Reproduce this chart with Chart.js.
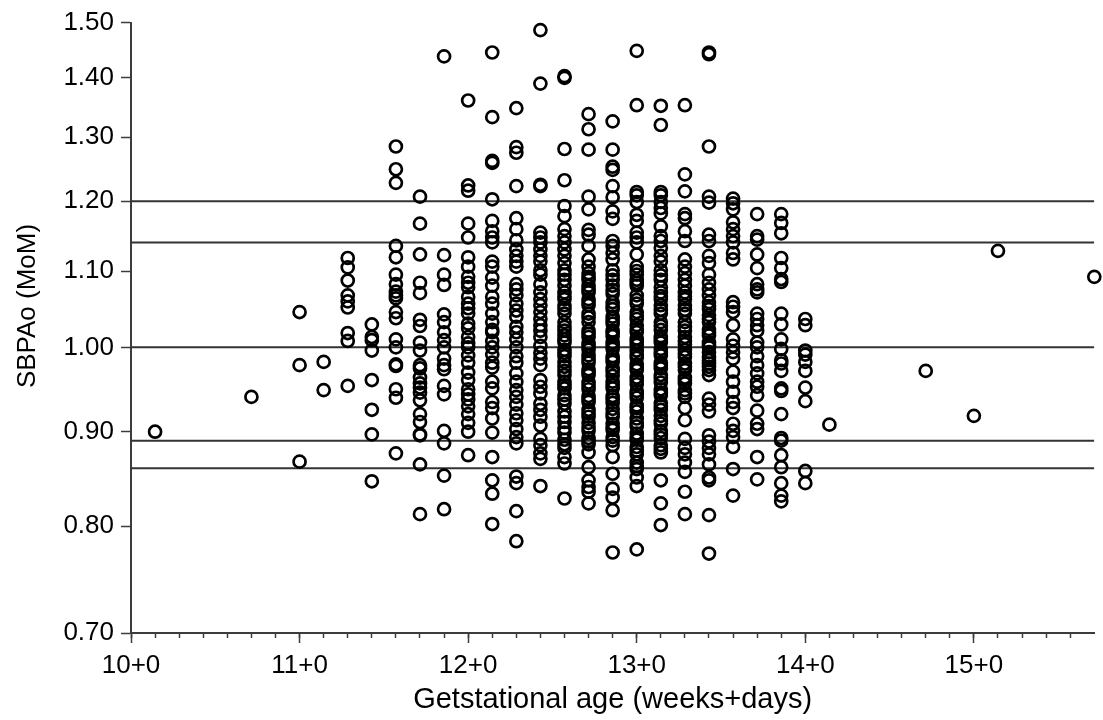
<!DOCTYPE html>
<html>
<head>
<meta charset="utf-8">
<title>SBPAo MoM by gestational age</title>
<script src="https://cdn.jsdelivr.net/npm/chart.js@4.4.0/dist/chart.umd.min.js"></script>
<style>
    html, body { margin: 0; padding: 0; background: #ffffff; }
    #wrap { width: 1103px; height: 720px; }
</style>
</head>
<body>
<div id="wrap"><canvas id="sbpaoChart" width="1103" height="720"></canvas></div>
<script>
// gestational age in days (10+0 = 70)
const gaDays = [71, 75, 77, 78, 79, 80, 81, 82, 83, 84, 85, 86, 87, 88, 89, 90, 91, 92, 93, 94, 95, 96, 97, 98, 99, 103, 105, 106, 110];

// SBPAo (MoM) values read per day column
const sbpaoByDay = [
    [0.900],
    [0.940],
    [1.045, 0.978, 0.867],
    [0.982, 0.948],
    [1.118, 1.105, 1.087, 1.067, 1.059, 1.051, 1.018, 1.008, 0.953],
    [1.029, 1.013, 1.009, 0.996, 0.960, 0.925, 0.897, 0.846],
    [1.285, 1.249, 1.228, 1.135, 1.119, 1.095, 1.082, 1.072, 1.067, 1.063, 1.045, 1.037, 1.010, 1.000, 0.979, 0.977, 0.949, 0.939, 0.876],
    [1.207, 1.167, 1.123, 1.084, 1.070, 1.035, 1.027, 1.006, 0.996, 0.978, 0.974, 0.963, 0.956, 0.951, 0.945, 0.936, 0.920, 0.911, 0.897, 0.896, 0.864, 0.812],
    [1.438, 1.122, 1.095, 1.081, 1.042, 1.032, 1.019, 1.009, 1.000, 0.986, 0.978, 0.973, 0.953, 0.943, 0.901, 0.887, 0.852, 0.817],
    [1.361, 1.224, 1.216, 1.167, 1.147, 1.119, 1.106, 1.092, 1.084, 1.078, 1.065, 1.056, 1.050, 1.043, 1.030, 1.024, 1.013, 1.005, 1.000, 0.990, 0.981, 0.969, 0.960, 0.949, 0.943, 0.937, 0.929, 0.920, 0.910, 0.900, 0.874],
    [1.445, 1.333, 1.262, 1.259, 1.203, 1.171, 1.156, 1.147, 1.140, 1.113, 1.106, 1.091, 1.080, 1.065, 1.056, 1.043, 1.032, 1.022, 1.019, 1.008, 1.000, 0.991, 0.981, 0.975, 0.958, 0.950, 0.934, 0.927, 0.915, 0.899, 0.872, 0.847, 0.833, 0.802],
    [1.348, 1.284, 1.275, 1.223, 1.175, 1.159, 1.143, 1.130, 1.121, 1.113, 1.106, 1.082, 1.075, 1.067, 1.056, 1.047, 1.039, 1.026, 1.019, 1.010, 1.000, 0.989, 0.981, 0.968, 0.958, 0.948, 0.940, 0.931, 0.921, 0.913, 0.903, 0.894, 0.887, 0.851, 0.844, 0.815, 0.785],
    [1.486, 1.390, 1.225, 1.223, 1.154, 1.147, 1.140, 1.130, 1.121, 1.113, 1.101, 1.095, 1.082, 1.071, 1.062, 1.054, 1.045, 1.036, 1.028, 1.021, 1.013, 1.002, 0.993, 0.986, 0.978, 0.960, 0.952, 0.944, 0.932, 0.925, 0.917, 0.907, 0.892, 0.885, 0.876, 0.870, 0.841],
    [1.403, 1.400, 1.281, 1.232, 1.193, 1.178, 1.159, 1.149, 1.140, 1.130, 1.121, 1.111, 1.101, 1.095, 1.088, 1.080, 1.071, 1.066, 1.062, 1.054, 1.049, 1.043, 1.032, 1.026, 1.021, 1.015, 1.010, 1.006, 0.997, 0.993, 0.989, 0.982, 0.976, 0.971, 0.966, 0.958, 0.954, 0.950, 0.942, 0.937, 0.932, 0.923, 0.917, 0.911, 0.904, 0.899, 0.891, 0.886, 0.882, 0.872, 0.865, 0.828],
    [1.338, 1.313, 1.280, 1.207, 1.188, 1.158, 1.151, 1.135, 1.116, 1.106, 1.097, 1.092, 1.088, 1.080, 1.075, 1.071, 1.062, 1.058, 1.054, 1.043, 1.038, 1.032, 1.021, 1.017, 1.013, 1.005, 1.001, 0.997, 0.990, 0.985, 0.981, 0.973, 0.969, 0.966, 0.957, 0.953, 0.949, 0.941, 0.937, 0.934, 0.925, 0.921, 0.917, 0.910, 0.905, 0.901, 0.893, 0.889, 0.886, 0.877, 0.861, 0.847, 0.840, 0.835, 0.823],
    [1.326, 1.280, 1.253, 1.248, 1.223, 1.206, 1.185, 1.174, 1.142, 1.135, 1.125, 1.116, 1.101, 1.094, 1.088, 1.080, 1.074, 1.069, 1.058, 1.053, 1.049, 1.039, 1.034, 1.030, 1.021, 1.018, 1.014, 1.006, 1.002, 0.998, 0.989, 0.985, 0.982, 0.974, 0.970, 0.965, 0.958, 0.954, 0.950, 0.941, 0.937, 0.933, 0.926, 0.921, 0.917, 0.909, 0.905, 0.902, 0.894, 0.890, 0.885, 0.872, 0.854, 0.838, 0.829, 0.816, 0.774],
    [1.448, 1.353, 1.214, 1.209, 1.199, 1.180, 1.171, 1.154, 1.147, 1.140, 1.123, 1.106, 1.100, 1.095, 1.088, 1.084, 1.080, 1.067, 1.061, 1.056, 1.045, 1.040, 1.036, 1.028, 1.023, 1.019, 1.011, 1.007, 1.003, 0.996, 0.991, 0.987, 0.979, 0.975, 0.972, 0.963, 0.959, 0.955, 0.947, 0.943, 0.939, 0.930, 0.927, 0.923, 0.915, 0.910, 0.906, 0.898, 0.894, 0.891, 0.883, 0.879, 0.875, 0.866, 0.862, 0.859, 0.850, 0.841, 0.777],
    [1.352, 1.320, 1.214, 1.209, 1.199, 1.190, 1.182, 1.163, 1.149, 1.142, 1.132, 1.121, 1.113, 1.101, 1.094, 1.088, 1.078, 1.071, 1.066, 1.062, 1.054, 1.048, 1.043, 1.032, 1.027, 1.022, 1.014, 1.010, 1.006, 0.998, 0.994, 0.990, 0.981, 0.978, 0.974, 0.966, 0.962, 0.957, 0.949, 0.945, 0.942, 0.933, 0.929, 0.925, 0.918, 0.913, 0.909, 0.901, 0.897, 0.893, 0.885, 0.881, 0.877, 0.847, 0.823, 0.801],
    [1.353, 1.241, 1.215, 1.181, 1.175, 1.156, 1.142, 1.116, 1.106, 1.097, 1.088, 1.080, 1.071, 1.066, 1.062, 1.054, 1.048, 1.043, 1.032, 1.026, 1.021, 1.013, 1.008, 1.004, 0.997, 0.992, 0.988, 0.980, 0.976, 0.972, 0.963, 0.960, 0.956, 0.948, 0.944, 0.940, 0.927, 0.913, 0.892, 0.882, 0.875, 0.866, 0.856, 0.835, 0.812],
    [1.445, 1.442, 1.285, 1.207, 1.198, 1.151, 1.142, 1.121, 1.111, 1.095, 1.084, 1.075, 1.067, 1.058, 1.053, 1.049, 1.041, 1.036, 1.032, 1.023, 1.019, 1.015, 1.006, 1.003, 1.000, 0.994, 0.988, 0.984, 0.980, 0.976, 0.972, 0.966, 0.938, 0.931, 0.923, 0.896, 0.889, 0.882, 0.875, 0.864, 0.850, 0.847, 0.811, 0.773],
    [1.204, 1.197, 1.188, 1.169, 1.159, 1.149, 1.140, 1.125, 1.116, 1.058, 1.052, 1.045, 1.028, 1.010, 1.002, 0.994, 0.986, 0.970, 0.958, 0.946, 0.934, 0.927, 0.909, 0.901, 0.894, 0.883, 0.859, 0.831],
    [1.181, 1.149, 1.144, 1.123, 1.104, 1.082, 1.075, 1.071, 1.043, 1.036, 1.028, 1.021, 1.006, 1.000, 0.989, 0.978, 0.968, 0.958, 0.952, 0.942, 0.924, 0.909, 0.903, 0.872, 0.848],
    [1.181, 1.168, 1.153, 1.118, 1.104, 1.089, 1.085, 1.043, 1.029, 1.010, 0.998, 0.984, 0.980, 0.971, 0.950, 0.947, 0.920, 0.893, 0.890, 0.874, 0.861, 0.844, 0.831, 0.825],
    [1.036, 1.028, 0.996, 0.991, 0.982, 0.971, 0.951, 0.935, 0.857, 0.844],
    [0.908],
    [0.971],
    [0.918],
    [1.128],
    [1.092]
];

// horizontal reference lines (MoM)
const refLines = [1.20, 1.14, 1.00, 0.89, 0.86];

// axis ticks
const yTicks = [0.70, 0.80, 0.90, 1.00, 1.10, 1.20, 1.30, 1.40, 1.50];
const weekTicks = [10, 11, 12, 13, 14, 15];
const dayTicks = [];
for (let d = 70; d <= 109; d++) dayTicks.push(d);

const FONT = "'Liberation Sans', Arial, sans-serif";
const AXIS_COLOR = '#3c3c3c';

let points = [];
gaDays.forEach(function (day, i) {
    sbpaoByDay[i].forEach(function (v) {
        points.push({x: day, y: v});
    });
});

let datasets = refLines.map(function (v) {
    return {
        type: 'line',
        data: [{x: 70, y: v}, {x: 110, y: v}],
        borderColor: '#333333',
        borderWidth: 2,
        pointRadius: 0,
        order: 2
    };
});

datasets.push({
    type: 'scatter',
    data: points,
    pointStyle: 'circle',
    pointRadius: 6,
    borderWidth: 2.7,
    borderColor: '#000000',
    backgroundColor: 'rgba(0,0,0,0)',
    clip: false,
    order: 1
});

// y title is drawn by hand, it sits a bit above the middle of the axis
const yTitlePlugin = {
    id: 'yTitle',
    afterDraw(chart) {
        const ctx = chart.ctx;
        ctx.save();
        ctx.translate(28, 306);
        ctx.rotate(-Math.PI / 2);
        ctx.font = '26px ' + FONT;
        ctx.fillStyle = '#000';
        ctx.textAlign = 'center';
        ctx.textBaseline = 'middle';
        ctx.fillText('SBPAo (MoM)', 0, 0);
        ctx.restore();
    }
};

new Chart(document.getElementById('sbpaoChart'), {
    data: {datasets: datasets},
    plugins: [yTitlePlugin],
    options: {
        responsive: false,
        devicePixelRatio: 1,
        animation: false,
        layout: {padding: {top: 18, right: 8, left: 0, bottom: 0}},
        plugins: {legend: {display: false}, tooltip: {enabled: false}},
        scales: {
            x: {
                type: 'linear', min: 70, max: 110, position: 'bottom', weight: 0,
                afterBuildTicks: function (s) { s.ticks = dayTicks.map(function (d) { return {value: d}; }); },
                afterFit: function (s) { s.height = 0; },
                ticks: {display: false},
                grid: {drawOnChartArea: false, tickLength: 5, tickColor: AXIS_COLOR, tickWidth: 1.5},
                border: {color: AXIS_COLOR, width: 2}
            },
            xWeeks: {
                type: 'linear', min: 70, max: 110, position: 'bottom', weight: 1,
                afterBuildTicks: function (s) { s.ticks = weekTicks.map(function (w) { return {value: w * 7}; }); },
                afterFit: function (s) { s.height = 87; },
                ticks: {
                    autoSkip: false, maxRotation: 0, padding: 7, color: '#000',
                    font: {family: FONT, size: 26},
                    callback: function (v) { return (v / 7) + '+0'; }
                },
                grid: {drawOnChartArea: false, tickLength: 10, tickColor: AXIS_COLOR, tickWidth: 1.5},
                border: {color: AXIS_COLOR, width: 2},
                title: {
                    display: true, text: 'Getstational age (weeks+days)', color: '#000',
                    font: {family: FONT, size: 29}, padding: {top: 0, bottom: 3}
                }
            },
            y: {
                type: 'logarithmic', min: 0.7, max: 1.5, position: 'left',
                afterBuildTicks: function (s) { s.ticks = yTicks.map(function (v) { return {value: v}; }); },
                afterFit: function (s) { s.width = 131; },
                ticks: {
                    autoSkip: false, padding: 7, color: '#000',
                    font: {family: FONT, size: 26},
                    callback: function (v) { return Number(v).toFixed(2); }
                },
                grid: {drawOnChartArea: false, tickLength: 10, tickColor: AXIS_COLOR, tickWidth: 1.5},
                border: {color: AXIS_COLOR, width: 2}
            }
        }
    }
});
</script>
</body>
</html>
